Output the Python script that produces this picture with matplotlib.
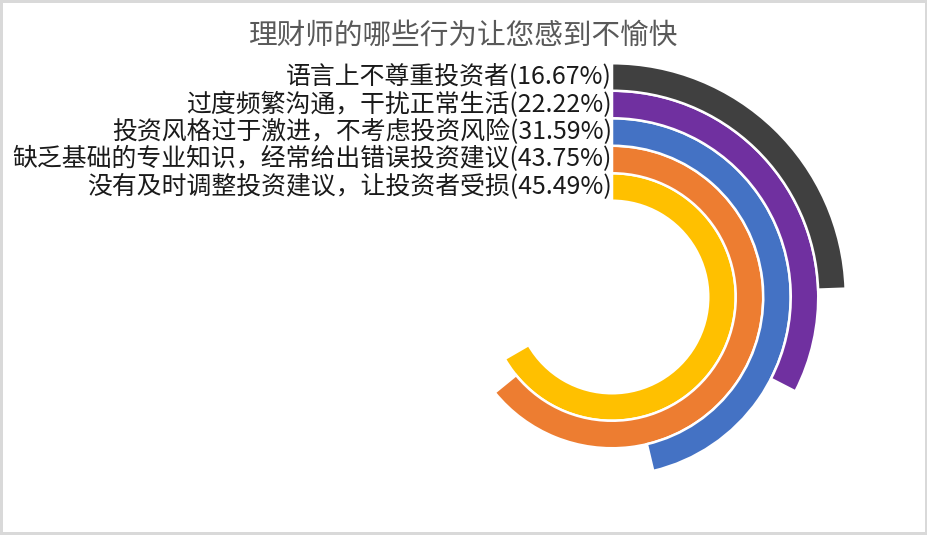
import numpy as np
import matplotlib
matplotlib.use('Agg')
import matplotlib.pyplot as plt

plt.rcParams['font.family'] = ['Noto Sans CJK SC', 'DejaVu Sans']

# data, innermost ring first
categories = ['没有及时调整投资建议，让投资者受损',
              '缺乏基础的专业知识，经常给出错误投资建议',
              '投资风格过于激进，不考虑投资风险',
              '过度频繁沟通，干扰正常生活',
              '语言上不尊重投资者']
values = [45.49, 43.75, 31.59, 22.22, 16.67]
colors = ['#ffc000', '#ed7d31', '#4472c4', '#7030a0', '#404040']
title = '理财师的哪些行为让您感到不愉快'

W, H = 928, 535
fig = plt.figure(figsize=(W / 100, H / 100), dpi=100)
fig.patch.set_edgecolor('#d9d9d9')
fig.patch.set_linewidth(3)

# polar axes in pixel units: centre at (612, 297), radius 240 px
cx, cy, rmax = 612, 297, 240
ax = fig.add_axes([(cx - rmax) / W, (H - cy - rmax) / H, 2 * rmax / W, 2 * rmax / H],
                  projection='polar')
ax.set_theta_zero_location('N')
ax.set_theta_direction(-1)
ax.set_ylim(0, rmax)
ax.axis('off')

pitch = 27.5
r0 = 110
radii = [r0 + i * pitch for i in range(len(values))]
# largest value spans 2/3 of the circle
scale = 2 * np.pi / (1.5 * max(values))
angles = [v * scale for v in values]

ax.bar(x=0, height=pitch, width=angles, bottom=[r - pitch / 2 for r in radii],
       align='edge', color=colors, edgecolor='white', linewidth=1.8)

for r, lab, v in zip(radii, categories, values):
    ax.text(0, r, f'{lab}({v:.2f}%)', ha='right', va='center',
            fontsize=17.9, color='#1a1a1a')

fig.text(0.5, 1 - 36 / H, title, ha='center', va='center',
         fontsize=20.6, color='#595959')

fig.savefig('out.png', dpi=100)
